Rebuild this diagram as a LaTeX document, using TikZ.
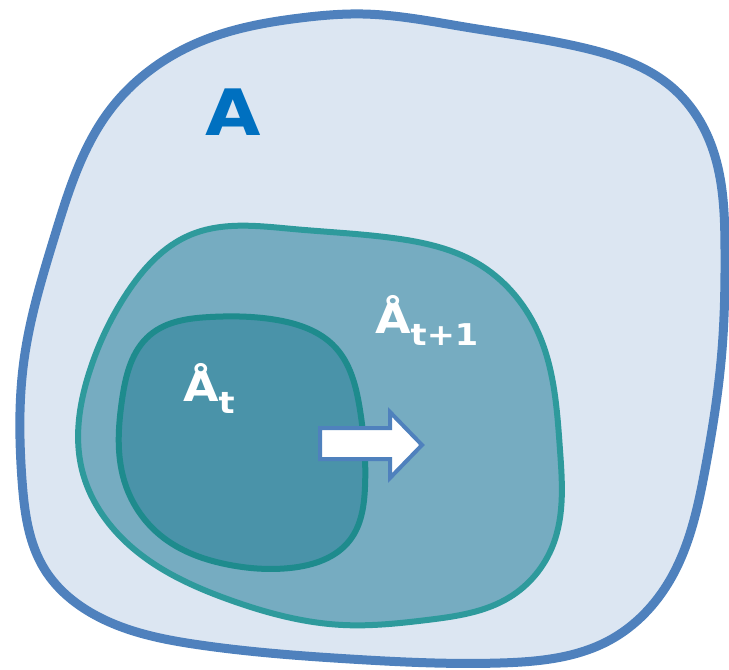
\documentclass[tikz,border=0pt]{standalone}
\usepackage{fontspec}
\setsansfont{DejaVu Sans}
\usepackage{xcolor}
\usetikzlibrary{hobby}
\definecolor{setblue}{HTML}{4F81BD}
\definecolor{setfill}{HTML}{DCE6F2}
\definecolor{labelblue}{HTML}{0070C0}
\definecolor{nextfill}{HTML}{76ACC1}
\definecolor{nextline}{HTML}{2E9A9C}
\definecolor{curfill}{HTML}{4A93A9}
\definecolor{curline}{HTML}{1E8B8D}
\newcommand{\wide}[1]{\scalebox{1.12}[1]{#1}}

\begin{document}
\begin{tikzpicture}[x=1pt, y=-1pt,
  outerset/.style={draw=setblue, line width=9pt, fill=setfill, line join=round, use Hobby shortcut, closed=true},
  nextset/.style={draw=nextline, line width=6pt, fill=nextfill, line join=round, use Hobby shortcut, closed=true},
  curset/.style={draw=curline, line width=6pt, fill=curfill, line join=round, use Hobby shortcut, closed=true},
  growarrow/.style={draw=setblue, line width=4pt, fill=white, line join=miter},
  biglbl/.style={font=\sffamily\bfseries\fontsize{64}{64}\selectfont, text=labelblue, inner sep=0pt, anchor=base west},
  setlbl/.style={font=\sffamily\bfseries\fontsize{41}{41}\selectfont, text=white, inner sep=0pt, anchor=base west},
]
\useasboundingbox (0,0) rectangle (729,670);

% Outer set A
\draw[outerset] (197,43) .. (300,18) .. (363,14) .. (465,27) .. (580,47)
  .. (675,90) .. (713,150) .. (725,250) .. (722,350) .. (705,470) .. (670,580)
  .. (610,640) .. (500,663) .. (350,659) .. (200,645) .. (95,615) .. (45,570)
  .. (22,480) .. (24,360) .. (55,235) .. (110,110);

% Set at step t+1
\draw[nextset] (190,235) .. (293,229) .. (393,238) .. (477,263) .. (537,330)
  .. (560,450) .. (553,545) .. (510,597) .. (427,620) .. (343,625) .. (230,600)
  .. (127,543) .. (82,470) .. (90,370) .. (127,293);

% Set at step t
\draw[curset] (210,317) .. (277,320) .. (335,347) .. (360,410) .. (365,487)
  .. (350,540) .. (290,568) .. (230,565) .. (160,535) .. (124,480) .. (122,400)
  .. (150,335);

% Growth arrow
\draw[growarrow] (320,428) -- (390,428) -- (390,412) -- (422,445) -- (390,478)
  -- (390,459) -- (320,459) -- cycle;

% Labels
\node[biglbl] (lblA) at (205,135) {\wide{A}};
\node[setlbl] (lblcur) at (183,401) {\wide{Å}\raisebox{-12pt}{\fontsize{30}{30}\selectfont\wide{t}}};
\node[setlbl] (lblnext) at (375,333) {\wide{Å}\raisebox{-12pt}{\fontsize{30}{30}\selectfont\wide{t+1}}};
\end{tikzpicture}
\end{document}
